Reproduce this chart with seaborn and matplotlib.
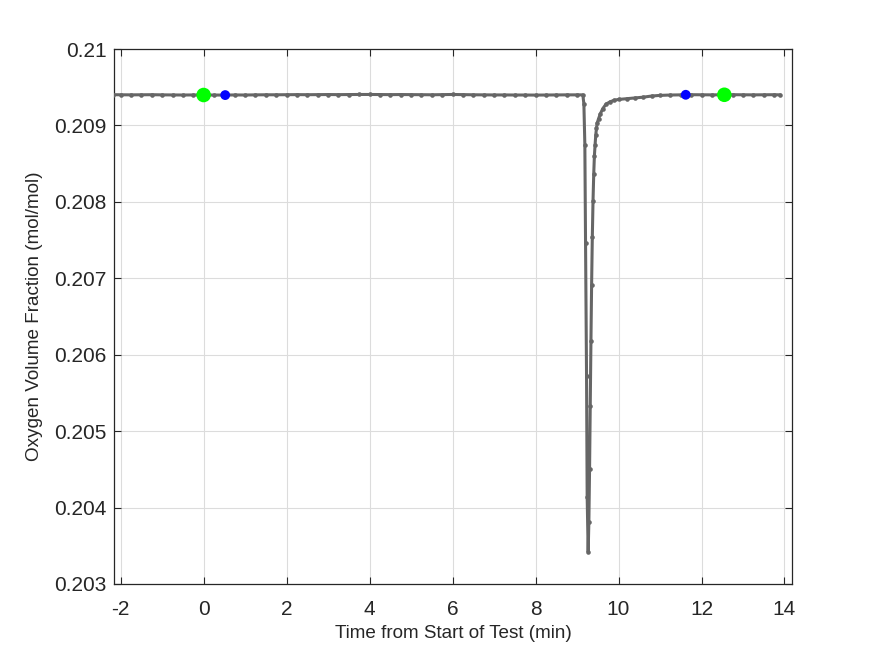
import matplotlib
matplotlib.use("Agg")
import matplotlib.pyplot as plt
import seaborn as sns
import pandas as pd

# oxygen trace, time in minutes from start of test
time_min = [-2.18, -2.0, -1.75, -1.5, -1.25, -1.0, -0.75, -0.5, -0.25, 0.0,
            0.25, 0.5, 0.75, 1.0, 1.25, 1.5, 1.75, 2.0, 2.25, 2.5,
            2.75, 3.0, 3.25, 3.5, 3.75, 4.0, 4.25, 4.5, 4.75, 5.0,
            5.25, 5.5, 5.75, 6.0, 6.25, 6.5, 6.75, 7.0, 7.25, 7.5,
            7.75, 8.0, 8.25, 8.5, 8.75, 9.0, 9.14,
            9.165, 9.188, 9.205, 9.229, 9.244, 9.268,
            9.285, 9.302, 9.318, 9.335, 9.351, 9.368, 9.385, 9.402, 9.418,
            9.435, 9.452, 9.468, 9.485, 9.52, 9.56, 9.62, 9.7, 9.8,
            9.9, 10.0, 10.2, 10.4, 10.6, 10.8, 11.0, 11.25, 11.5, 11.75,
            12.0, 12.25, 12.5, 12.75, 13.0, 13.25, 13.5, 13.75, 13.9]
o2_frac = [0.209402, 0.209401, 0.209400, 0.209401, 0.209402, 0.209400, 0.209399, 0.209398, 0.209399, 0.209398,
           0.209398, 0.209397, 0.209399, 0.209398, 0.209400, 0.209401, 0.209401, 0.209402, 0.209403, 0.209402,
           0.209403, 0.209404, 0.209403, 0.209404, 0.209405, 0.209405, 0.209404, 0.209403, 0.209404, 0.209403,
           0.209402, 0.209401, 0.209403, 0.209405, 0.209403, 0.209401, 0.209400, 0.209399, 0.209399, 0.209398,
           0.209398, 0.209397, 0.209398, 0.209399, 0.209400, 0.209400, 0.209400,
           0.209280, 0.208750, 0.207460, 0.205720, 0.204140, 0.203420,
           0.203810, 0.204510, 0.205330, 0.206180, 0.206910, 0.207540, 0.208010, 0.208360, 0.208600,
           0.208750, 0.208880, 0.208960, 0.209030, 0.209090, 0.209150, 0.209220, 0.209280, 0.209310,
           0.209330, 0.209340, 0.209350, 0.209360, 0.209370, 0.209385, 0.209393, 0.209398, 0.209400, 0.209402,
           0.209401, 0.209400, 0.209401, 0.209402, 0.209401, 0.209400, 0.209401, 0.209402, 0.209400]

# window markers
green_t = [0.0, 12.55]
green_y = [0.209398, 0.209401]
blue_t = [0.52, 11.62]
blue_y = [0.209397, 0.209401]

xticks = [-2, 0, 2, 4, 6, 8, 10, 12, 14]
yticks = [0.203, 0.204, 0.205, 0.206, 0.207, 0.208, 0.209, 0.21]
ytick_labels = ['0.203', '0.204', '0.205', '0.206', '0.207', '0.208', '0.209', '0.21']

sns.set_style("whitegrid")
plt.rcParams['font.family'] = ['Liberation Sans', 'DejaVu Sans']

df = pd.DataFrame({'t': time_min, 'o2': o2_frac})

fig = plt.figure(figsize=(8.75, 6.56), dpi=100)
ax = fig.add_axes([0.1303, 0.1098, 0.7748, 0.8155])

sns.lineplot(data=df, x='t', y='o2', ax=ax, color='#666666', linewidth=2.2,
             marker='o', markersize=3.3, markeredgewidth=0, zorder=3)
sns.scatterplot(x=green_t, y=green_y, ax=ax, color='#00ff00', s=110,
                edgecolor='none', zorder=4)
sns.scatterplot(x=blue_t, y=blue_y, ax=ax, color='#0000ff', s=50,
                edgecolor='none', zorder=5)

ax.set_xlim(-2.16, 14.18)
ax.set_ylim(0.203, 0.21)
ax.set_xticks(xticks)
ax.set_xticklabels([str(v) for v in xticks])
ax.set_yticks(yticks)
ax.set_yticklabels(ytick_labels)

ax.grid(True, color='#dcdcdc', linewidth=0.8)
for s in ax.spines.values():
    s.set_visible(True)
    s.set_color('#262626')
    s.set_linewidth(0.9)
ax.tick_params(direction='in', length=5, width=0.8, colors='#262626',
               labelsize=15, top=True, right=True, bottom=True, left=True,
               labelcolor='#262626')
ax.tick_params(axis='x', pad=11.5)
ax.tick_params(axis='y', pad=5.5)

ax.set_xlabel('Time from Start of Test (min)', fontsize=13.6, color='#262626')
ax.set_ylabel('Oxygen Volume Fraction (mol/mol)', fontsize=13.6, color='#262626')
ax.xaxis.set_label_coords(0.5, -0.077)
ax.yaxis.set_label_coords(-0.105, 0.5)

fig.savefig('out.png', dpi=100)
